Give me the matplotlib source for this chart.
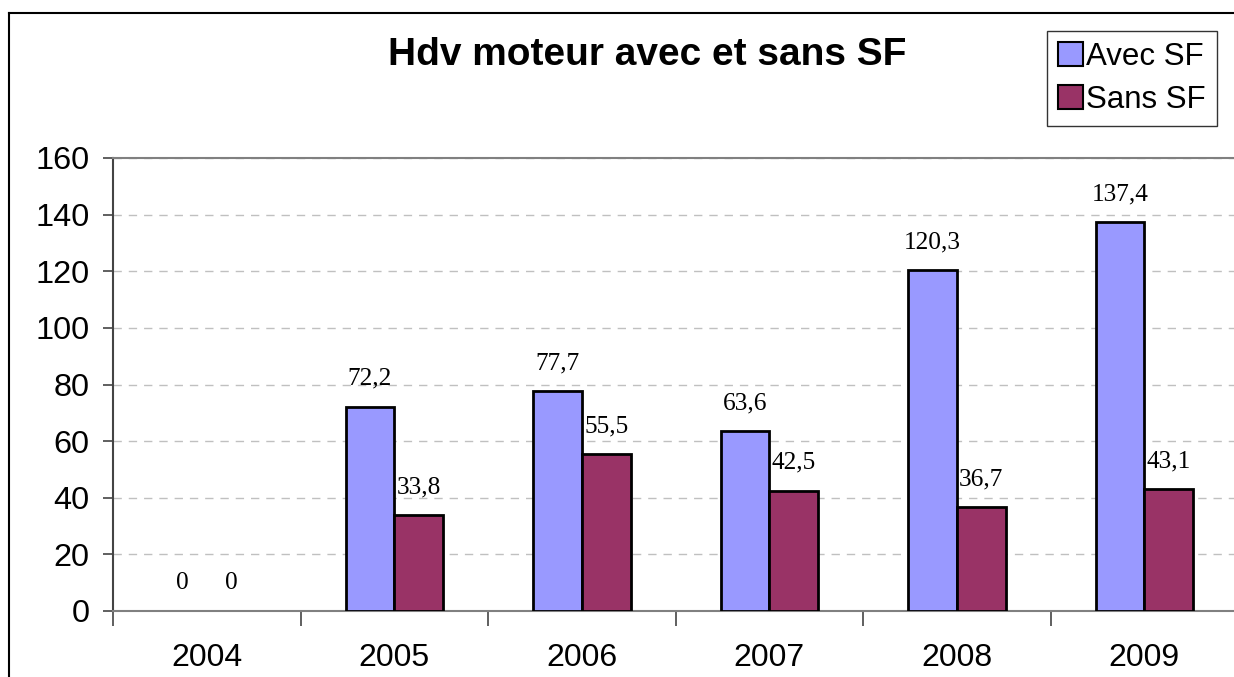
import numpy as np
import matplotlib
matplotlib.use("Agg")
import matplotlib.pyplot as plt
from matplotlib.lines import Line2D
from matplotlib.patches import Patch

years = ["2004", "2005", "2006", "2007", "2008", "2009"]
avec_sf = [0, 72.2, 77.7, 63.6, 120.3, 137.4]
sans_sf = [0, 33.8, 55.5, 42.5, 36.7, 43.1]

W, H = 1234, 677
fig = plt.figure(figsize=(W / 100, H / 100), dpi=100)
fig.patch.set_facecolor("white")

# outer frame: only top and left edges are inside the picture
fig.lines.append(Line2D([9 / W, 1.0], [1 - 13 / H] * 2, transform=fig.transFigure,
                        color="black", linewidth=1.5))
fig.lines.append(Line2D([9 / W] * 2, [0, 1 - 13 / H], transform=fig.transFigure,
                        color="black", linewidth=1.5))

ax = fig.add_axes([113 / W, 1 - 611 / H, 1125 / W, (611 - 158) / H])
x = np.arange(len(years))
w = 0.26

lw_a = [2 if v > 0 else 0 for v in avec_sf]
lw_s = [2 if v > 0 else 0 for v in sans_sf]
ax.bar(x - w / 2, avec_sf, w, color="#9999FF", edgecolor="black", linewidth=lw_a, zorder=3)
ax.bar(x + w / 2, sans_sf, w, color="#993366", edgecolor="black", linewidth=lw_s, zorder=3)

for i in range(len(years)):
    for xx, v in [(x[i] - w / 2, avec_sf[i]), (x[i] + w / 2, sans_sf[i])]:
        lab = ("%g" % v).replace(".", ",")
        ax.annotate(lab, (xx, v), xytext=(0, 20), textcoords="offset points",
                    ha="center", va="center", fontsize=18.3,
                    family="Liberation Serif")

ax.set_xlim(-0.5, len(years) - 0.5)
ax.set_ylim(0, 160)
ax.set_yticks(range(0, 161, 20))
ax.set_yticklabels([str(v) for v in range(0, 161, 20)], fontsize=23.4,
                   family="Liberation Sans")
ax.yaxis.grid(True, linestyle=(0, (6, 5)), color="#c0c0c0", linewidth=1)
ax.set_axisbelow(True)

ax.set_xticks(x)
ax.set_xticklabels(years, fontsize=23, family="Liberation Sans")
ax.tick_params(axis="x", length=0, pad=23)
ax.set_xticks(np.arange(-0.5, len(years), 1), minor=True)
ax.tick_params(axis="x", which="minor", length=11, width=1.2, color="#444444")
ax.tick_params(axis="y", length=7, width=1.2, color="#444444", pad=10)

for s in ["top", "bottom"]:
    ax.spines[s].set_color("#808080")
    ax.spines[s].set_linewidth(1.5)
ax.spines["left"].set_color("#444444")
ax.spines["left"].set_linewidth(1.5)
ax.spines["right"].set_visible(False)

fig.text(647 / W, 1 - 55 / H, "Hdv moteur avec et sans SF", ha="center",
         va="center", fontsize=28, fontweight="bold", family="Liberation Sans")

handles = [Patch(facecolor="#9999FF", edgecolor="black", linewidth=1.5, label="Avec SF"),
           Patch(facecolor="#993366", edgecolor="black", linewidth=1.5, label="Sans SF")]
leg = fig.legend(handles=handles, loc="upper right",
                 bbox_to_anchor=(1217 / W, 1 - 31 / H),
                 prop={"family": "Liberation Sans", "size": 22.5},
                 frameon=True, fancybox=False, edgecolor="black",
                 handlelength=0.8, handleheight=0.8, handletextpad=0.12,
                 borderpad=0.35, labelspacing=0.42, borderaxespad=0)
leg.get_frame().set_linewidth(1)

fig.savefig("out.png", dpi=100)
